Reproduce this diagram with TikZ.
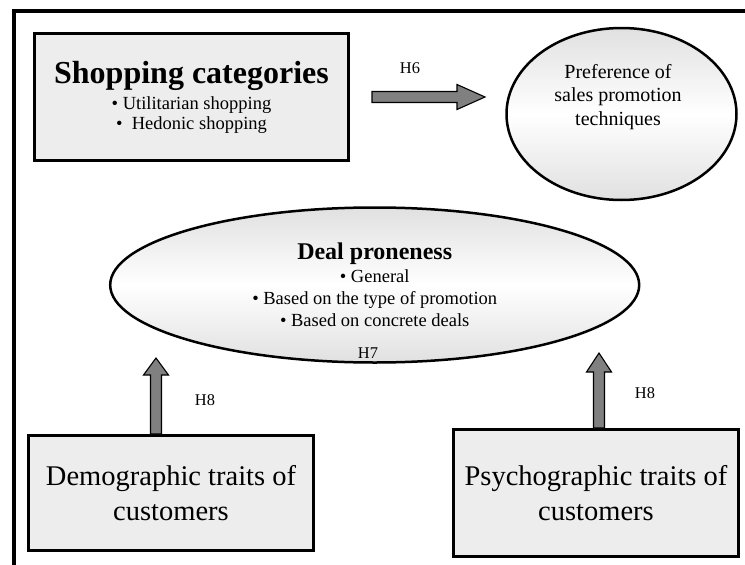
\documentclass[tikz,border=0pt]{standalone}
\usepackage{fontspec}
\setmainfont{Liberation Serif}
\usetikzlibrary{shapes.geometric,calc}

\tikzset{
  catbox/.style={draw, line width=3pt, fill=black!7, inner sep=0pt, align=center},
  oval/.style={ellipse, draw, line width=2.5pt, top color=black!12, bottom color=black!12,
    middle color=white, inner sep=0pt, align=center},
  hyp/.style={font=\fontsize{16.4}{18}\selectfont},
  blockarrow/.style={draw=black, line width=1.1pt, fill=black!50, line join=miter,
    to path={
      ($(\tikztostart)!5.5pt!90:(\tikztotarget)$)
      -- ($(\tikztotarget)!#1!(\tikztostart)!5.5pt!-90:(\tikztostart)$)
      -- ($(\tikztotarget)!#1!(\tikztostart)!12.5pt!-90:(\tikztostart)$)
      -- (\tikztotarget)
      -- ($(\tikztotarget)!#1!(\tikztostart)!12.5pt!90:(\tikztostart)$)
      -- ($(\tikztotarget)!#1!(\tikztostart)!5.5pt!90:(\tikztostart)$)
      -- ($(\tikztostart)!5.5pt!-90:(\tikztotarget)$)
      -- cycle}},
}

\begin{document}
\begin{tikzpicture}[x=1pt, y=-1pt]
\useasboundingbox (0,0) rectangle (745,565);
% frame
\draw[line width=3.6pt] (13.7,565) -- (13.7,11) -- (745,11);

% boxes and ovals
\node[catbox, minimum width=314pt, minimum height=127pt, font=\fontsize{18.5}{20}\selectfont] (shop) at (191.5,97)
  {{\fontsize{32}{34}\selectfont\bfseries Shopping categories}\\[6pt]
   \textbullet\ Utilitarian shopping\\
   \textbullet\ \ Hedonic shopping};
\node[oval, minimum width=230pt, minimum height=172pt] (pref) at (621.5,114) {};
\node[align=center, font=\fontsize{20}{23.5}\selectfont] (preftext) at (618,97)
  {Preference of\\sales promotion\\techniques};
\node[oval, minimum width=529pt, minimum height=155pt, font=\fontsize{18.5}{22}\selectfont] (deal) at (374.7,285)
  {{\fontsize{24}{26}\selectfont\bfseries Deal proneness}\\[1pt]
   \textbullet\ General\\
   \textbullet\ Based on the type of promotion\\
   \textbullet\ Based on concrete deals};
\node[catbox, minimum width=285pt, minimum height=115pt, font=\fontsize{28.5}{35}\selectfont] (demo) at (171,493)
  {Demographic traits of\\customers};
\node[catbox, minimum width=285pt, minimum height=127pt, font=\fontsize{28.5}{35}\selectfont] (psych) at (596,493)
  {Psychographic traits of\\customers};

% arrows
\coordinate (h6tip) at (485,97);
\coordinate (h8ltip) at (156,358);
\coordinate (h8rtip) at (599,353);
\draw[blockarrow=28pt] ([xshift=22pt]shop.east) to (h6tip);
\draw[blockarrow=17pt] (h8ltip |- demo.north) to (h8ltip);
\draw[blockarrow=19pt] (h8rtip |- psych.north) to (h8rtip);

% hypothesis labels
\node[hyp] (h6) at (410,68) {H6};
\node[hyp] (h7) at (368,353) {H7};
\node[hyp] (h8l) at (205,400) {H8};
\node[hyp] (h8r) at (645,393) {H8};
\end{tikzpicture}
\end{document}
